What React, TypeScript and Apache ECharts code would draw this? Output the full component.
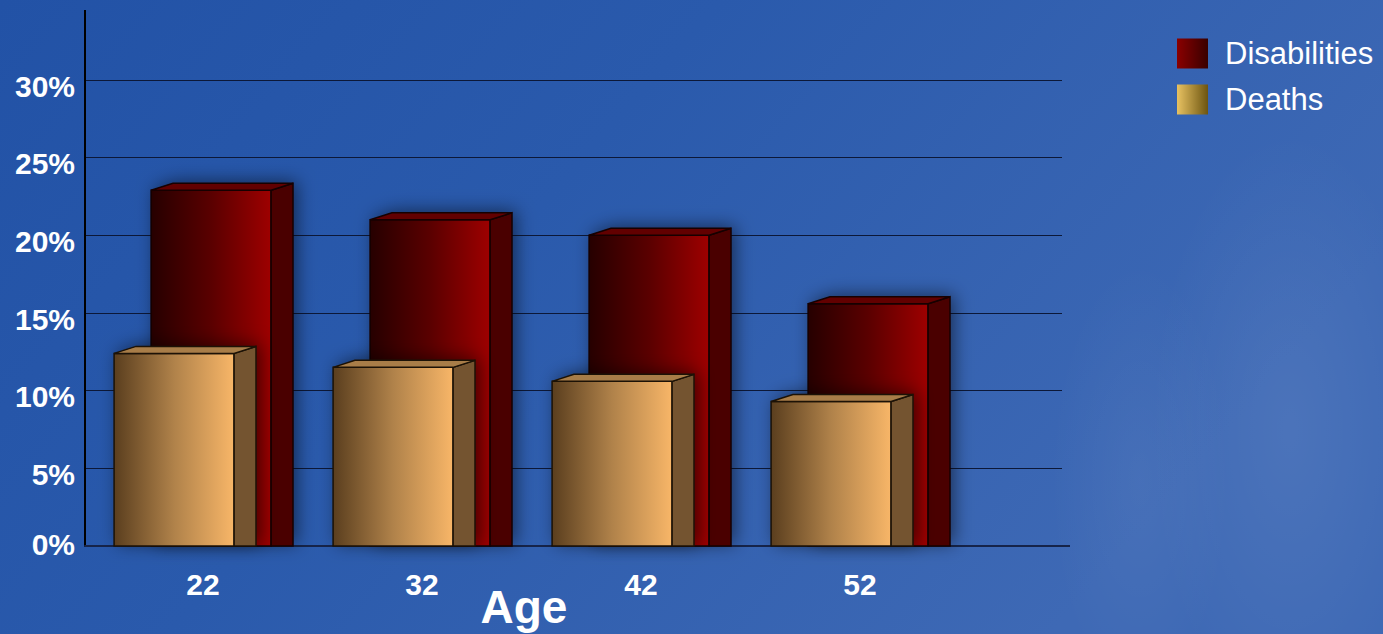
import React, { useEffect, useRef } from "react";
import * as echarts from "echarts";

const categories = ["22", "32", "42", "52"];
const disabilities = [22.9, 21.0, 20.0, 15.6];
const deaths = [12.4, 11.5, 10.6, 9.3];
const seriesNames = ["Disabilities", "Deaths"];
const axisTitle = "Age";

const FONT = "'Liberation Sans', Arial, sans-serif";

const lin = (stops: [number, string][]) => ({
  type: "linear",
  x: 0,
  y: 0,
  x2: 1,
  y2: 0,
  colorStops: stops.map(([offset, color]) => ({ offset, color })),
});

const glow = (a: number) => ({
  type: "radial",
  x: 0.5,
  y: 0.5,
  r: 0.5,
  colorStops: [
    { offset: 0, color: `rgba(255,255,255,${a})` },
    { offset: 1, color: "rgba(255,255,255,0)" },
  ],
});

const makeRender =
  (offset: number, front: any, side: string, top: string, stroke: string) =>
  (params: any, api: any) => {
    const i = api.value(0);
    const v = api.value(1);
    const p = api.coord([i, v]);
    const b = api.coord([i, 0]);
    const band = api.size([1, 0])[0];
    const w = 0.548 * band;
    const dx = 0.1 * band;
    const dy = 7;
    const x0 = p[0] + offset * band;
    const y0 = p[1];
    const y1 = b[1];
    return {
      type: "group",
      children: [
        {
          type: "polygon",
          shape: {
            points: [
              [x0, y1],
              [x0, y0],
              [x0 + dx, y0 - dy],
              [x0 + w + dx, y0 - dy],
              [x0 + w + dx, y1],
            ],
          },
          style: {
            fill: "rgba(0,0,0,0.8)",
            shadowBlur: 18,
            shadowColor: "rgba(0,0,20,0.65)",
            shadowOffsetX: 4,
            shadowOffsetY: -2,
          },
        },
        {
          type: "rect",
          shape: { x: x0, y: y0, width: w, height: y1 - y0 },
          style: { fill: front, stroke, lineWidth: 1.5 },
        },
        {
          type: "polygon",
          shape: {
            points: [
              [x0 + w, y0],
              [x0 + w + dx, y0 - dy],
              [x0 + w + dx, y1],
              [x0 + w, y1],
            ],
          },
          style: { fill: side, stroke, lineWidth: 1.5 },
        },
        {
          type: "polygon",
          shape: {
            points: [
              [x0, y0],
              [x0 + dx, y0 - dy],
              [x0 + w + dx, y0 - dy],
              [x0 + w, y0],
            ],
          },
          style: { fill: top, stroke, lineWidth: 1.5 },
        },
      ],
    };
  };

export default function App() {
  const ref = useRef<HTMLDivElement>(null);
  useEffect(() => {
    if (!ref.current) return;
    const chart = echarts.init(ref.current, null, { renderer: "svg" });
    const disFront = lin([
      [0, "#260000"],
      [0.5, "#5a0000"],
      [1, "#9e0000"],
    ]);
    const deaFront = lin([
      [0, "#5a3e1e"],
      [0.5, "#b0824a"],
      [1, "#f8b668"],
    ]);
    const disLegend = lin([
      [0, "#8a0000"],
      [1, "#380000"],
    ]);
    const deaLegend = lin([
      [0, "#e8c262"],
      [1, "#6c5410"],
    ]);
    const option: any = {
      animation: false,
      backgroundColor: {
        type: "linear",
        x: 0,
        y: 0,
        x2: 1,
        y2: 0.4,
        colorStops: [
          { offset: 0, color: "#2252a6" },
          { offset: 0.45, color: "#2a5aac" },
          { offset: 1, color: "#3e69b5" },
        ],
      },
      textStyle: { fontFamily: FONT },
      graphic: [
        {
          type: "ellipse",
          shape: { cx: 1290, cy: 430, rx: 140, ry: 300 },
          style: { fill: glow(0.07) },
          z: -10,
        },
        {
          type: "ellipse",
          shape: { cx: 1140, cy: 480, rx: 90, ry: 220 },
          style: { fill: glow(0.05) },
          z: -10,
        },
        {
          type: "line",
          shape: { x1: 85, y1: 10, x2: 85, y2: 81 },
          style: { stroke: "#000000", lineWidth: 2 },
        },
        {
          type: "line",
          shape: { x1: 1060, y1: 546, x2: 1070, y2: 546 },
          style: { stroke: "#16244a", lineWidth: 2 },
        },
      ],
      legend: {
        orient: "vertical",
        left: 1177,
        top: 38,
        padding: 0,
        itemWidth: 31,
        itemHeight: 30,
        itemGap: 15,
        icon: "rect",
        textStyle: {
          color: "#ffffff",
          fontSize: 31,
          fontFamily: FONT,
          padding: [0, 0, 0, 12],
        },
        data: [
          { name: seriesNames[0], itemStyle: { color: disLegend } },
          { name: seriesNames[1], itemStyle: { color: deaLegend } },
        ],
      },
      grid: [
        { left: 85, right: 321, top: 80, bottom: 88, outerBoundsMode: "none", containLabel: false },
        { left: 93.5, right: 413.5, top: 80, bottom: 88, outerBoundsMode: "none", containLabel: false },
      ],
      xAxis: [
        {
          gridIndex: 0,
          type: "category",
          data: categories,
          axisLine: { show: true, lineStyle: { color: "#16244a", width: 2 } },
          axisTick: { show: false },
          axisLabel: { show: false },
          splitLine: { show: false },
        },
        {
          gridIndex: 1,
          type: "category",
          data: categories,
          axisLine: { show: false },
          axisTick: { show: false },
          axisLabel: {
            color: "#ffffff",
            fontSize: 30,
            fontWeight: "bold",
            fontFamily: FONT,
            margin: 23,
          },
          name: axisTitle,
          nameLocation: "middle",
          nameGap: 38,
          nameMoveOverlap: false,
          nameTextStyle: {
            color: "#ffffff",
            fontSize: 46,
            fontWeight: "bold",
            fontFamily: FONT,
            padding: [0, 15, 0, 0],
          },
        },
      ],
      yAxis: [
        {
          gridIndex: 0,
          type: "value",
          min: 0,
          max: 30,
          interval: 5,
          axisLine: { show: true, lineStyle: { color: "#000000", width: 2 } },
          axisTick: { show: false },
          splitLine: { show: true, lineStyle: { color: "#0c1838", width: 1 } },
          axisLabel: {
            margin: 10,
            formatter: (v: number) => (v === 0 ? "{z|0%}" : "{n|" + v + "%}"),
            rich: {
              n: {
                color: "#ffffff",
                fontSize: 30,
                fontWeight: "bold",
                fontFamily: FONT,
                padding: [12, 0, 0, 0],
              },
              z: {
                color: "#ffffff",
                fontSize: 30,
                fontWeight: "bold",
                fontFamily: FONT,
                padding: [0, 0, 4, 0],
              },
            },
          },
        },
        { gridIndex: 1, type: "value", min: 0, max: 30, show: false },
      ],
      series: [
        {
          name: seriesNames[0],
          type: "custom",
          xAxisIndex: 1,
          yAxisIndex: 1,
          itemStyle: { color: disLegend },
          renderItem: makeRender(-0.237, disFront, "#4a0000", "#620000", "#160000"),
          data: disabilities.map((v, i) => [i, v]),
        },
        {
          name: seriesNames[1],
          type: "custom",
          xAxisIndex: 1,
          yAxisIndex: 1,
          itemStyle: { color: deaLegend },
          renderItem: makeRender(-0.406, deaFront, "#745430", "#a87d48", "#1c1206"),
          data: deaths.map((v, i) => [i, v]),
        },
      ],
    };
    chart.setOption(option);
    return () => chart.dispose();
  }, []);
  return (
    <div
      ref={ref}
      style={{ position: "fixed", left: 0, top: 0, width: 1383, height: 634 }}
    />
  );
}
